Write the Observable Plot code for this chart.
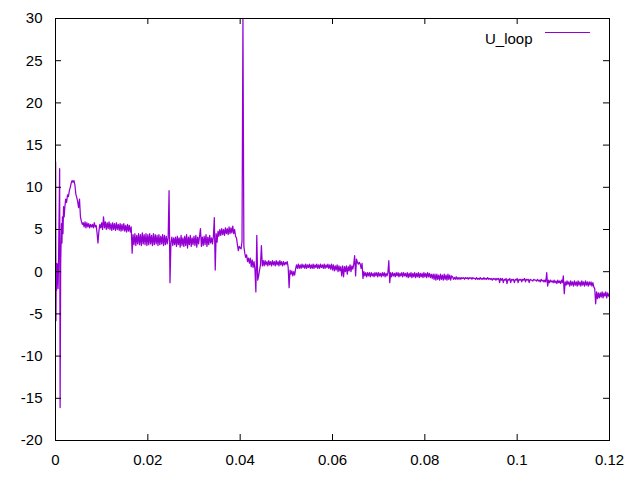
<!DOCTYPE html>
<html>
<head>
<meta charset="utf-8">
<script src="https://cdn.jsdelivr.net/npm/d3@7"></script>
<script src="https://cdn.jsdelivr.net/npm/@observablehq/plot@0.6"></script>
<style>
  html, body { margin: 0; padding: 0; background: #fff; }
  #chart svg { display: block; }
</style>
</head>
<body>
<div id="chart"></div>
<script>
// ---- data ----
const seriesName = "U_loop";
const xTicks = [0, 0.02, 0.04, 0.06, 0.08, 0.1, 0.12];
const xTickLabels = ["0", "0.02", "0.04", "0.06", "0.08", "0.1", "0.12"];
const yTicks = [-20, -15, -10, -5, 0, 5, 10, 15, 20, 25, 30];
const yTickLabels = ["-20", "-15", "-10", "-5", "0", "5", "10", "15", "20", "25", "30"];

// start-up transient (irregular times)
const transientTime = [0.00003, 0.0001, 0.00016, 0.00024, 0.00032, 0.0004, 0.00048, 0.00056, 0.00064,
  0.0009, 0.001, 0.00112, 0.0013, 0.0014, 0.0015, 0.00162, 0.00175, 0.00188];
const transientU = [13.0, -5.8, 0.9, -2.2, 1.0, -1.5, 0.8, -2.0, 0.5,
  12.2, -16.1, 1.0, 5.7, 3.4, 6.5, 4.5, 7.7, 6.5];

// regularly sampled part: t = 0.002, 0.0022, ... 0.12
const sampleStart = 0.002;
const sampleStep = 0.0002;
const uLoop = [
  7.5, 8.6, 8.2, 9.1, 8.9, 9.6, 10.0, 10.5, 10.8, 10.6,
  10.8, 10.3, 9.2, 8.8, 8.3, 7.6, 8.6, 6.5, 6.0, 5.6,
  5.8, 5.3, 5.9, 5.2, 5.8, 5.3, 5.7, 5.2, 5.6, 5.3,
  5.6, 5.2, 5.8, 5.3, 5.5, 4.6, 3.4, 4.8, 5.6, 5.2,
  5.8, 5.0, 6.5, 5.2, 5.9, 5.0, 5.8, 5.1, 5.9, 5.0,
  5.7, 4.9, 5.8, 5.0, 5.7, 4.9, 5.8, 5.0, 5.6, 4.9,
  5.7, 4.8, 5.6, 4.9, 5.7, 4.8, 5.5, 4.7, 5.6, 4.8,
  5.5, 4.7, 5.3, 2.2, 4.4, 3.2, 4.5, 3.1, 4.3, 3.3,
  4.5, 3.2, 4.4, 3.1, 4.6, 3.3, 4.4, 3.2, 4.5, 3.1,
  4.4, 3.2, 4.5, 3.3, 4.3, 3.1, 4.5, 3.2, 4.4, 3.3,
  4.3, 3.1, 4.4, 3.2, 4.2, 3.3, 4.4, 3.1, 4.3, 3.2,
  4.2, 3.3, 4.0, 9.6, -1.3, 3.4, 4.1, 3.1, 4.0, 3.2,
  4.1, 3.0, 4.2, 3.2, 4.0, 2.9, 4.3, 3.1, 4.0, 3.0,
  4.2, 3.1, 4.4, 2.8, 4.1, 3.2, 4.3, 3.0, 4.0, 3.2,
  4.2, 3.1, 4.3, 2.9, 4.1, 3.3, 4.2, 5.1, 3.0, 4.1,
  3.1, 4.2, 3.2, 4.4, 3.0, 4.1, 3.2, 4.3, 3.4, 4.0,
  3.3, 4.2, 6.4, 0.2, 4.5, 3.5, 4.8, 4.2, 5.0, 4.3,
  5.1, 4.4, 5.0, 4.3, 5.2, 4.5, 5.1, 4.4, 5.3, 4.5,
  5.2, 4.6, 5.4, 4.5, 5.0, 4.2, 4.0, 3.2, 2.5, 3.0,
  2.8, 2.7, 3.6, 30.0, 3.0, 2.2, 1.7, 2.0, 1.2, 1.6,
  1.0, 1.6, 0.6, 1.4, 0.5, 1.2, 0.3, -2.4, 4.3, -1.0,
  -0.5, 0.2, 0.8, 3.1, 0.7, 1.3, 0.7, 1.3, 0.8, 1.2,
  0.7, 1.3, 0.8, 1.2, 0.7, 1.3, 0.8, 1.2, 0.7, 1.3,
  0.8, 1.2, 0.7, 1.3, 0.8, 1.2, 0.7, 1.2, 0.8, 1.1,
  0.9, 1.2, 0.5, -1.9, 0.2, -0.3, 0.1, -0.5, 0.0, -0.4,
  0.3, 0.8, 0.4, 0.9, 0.4, 0.8, 0.4, 0.9, 0.5, 0.8,
  0.4, 0.9, 0.4, 0.8, 0.5, 0.9, 0.4, 0.8, 0.4, 0.9,
  0.4, 0.8, 0.5, 0.9, 0.4, 0.8, 0.4, 0.9, 0.5, 0.8,
  0.4, 0.9, 0.4, 0.8, 0.5, 0.9, 0.4, 0.8, 0.3, 0.9,
  0.2, 0.8, 0.1, 0.7, 0.2, 0.8, 0.0, 0.7, 0.1, 0.6,
  -0.5, 0.7, -0.6, 0.6, 0.0, 0.7, -0.3, 0.6, 0.1, 0.8,
  0.0, 0.7, 0.3, 0.9, 1.9, -0.5, 1.5, 1.1, 0.9, 1.1,
  0.9, 0.4, 1.0, -0.8, 0.0, -0.5, -0.1, -0.6, -0.1, -0.5,
  -0.1, -0.6, -0.1, -0.5, -0.2, -0.6, -0.1, -0.5, -0.1, -0.6,
  -0.1, -0.5, -0.2, -0.6, -0.1, -0.5, -0.1, -0.6, -0.2, -0.5,
  -0.1, 1.3, -1.3, -0.1, -0.6, -0.1, -0.5, -0.2, -0.6, -0.1,
  -0.5, -0.1, -0.6, -0.2, -0.5, -0.1, -0.6, -0.1, -0.5, -0.2,
  -0.6, -0.1, -0.7, -0.2, -0.6, -0.1, -0.7, -0.2, -0.6, -0.1,
  -0.7, -0.2, -0.6, -0.1, -0.7, -0.2, -0.6, -0.2, -0.7, -0.1,
  -0.6, -0.2, -0.7, -0.1, -0.6, -0.2, -0.7, -0.3, -0.8, -0.3,
  -0.9, -0.3, -1.0, -0.3, -0.9, -0.4, -1.0, -0.3, -0.9, -0.4,
  -1.0, -0.3, -0.9, -0.4, -1.0, -0.3, -0.9, -0.4, -1.0, -0.5,
  -0.6, -0.9, -0.7, -0.9, -0.6, -0.9, -0.7, -0.9, -0.7, -0.9,
  -0.7, -0.8, -0.7, -0.9, -0.7, -0.8, -0.7, -0.9, -0.7, -0.8,
  -0.7, -0.9, -0.7, -0.8, -0.8, -0.9, -0.7, -0.9, -0.8, -0.9,
  -0.7, -0.9, -0.8, -0.9, -0.7, -0.9, -0.8, -0.9, -0.7, -0.9,
  -0.8, -0.9, -0.8, -1.0, -0.8, -0.9, -0.8, -1.0, -0.8, -0.9,
  -0.8, -1.3, -0.8, -1.0, -0.8, -1.3, -0.9, -1.0, -0.8, -1.4,
  -0.9, -1.0, -0.8, -1.3, -0.9, -1.0, -0.9, -1.3, -0.9, -1.0,
  -0.8, -1.3, -0.9, -1.0, -0.9, -1.2, -0.9, -1.0, -0.8, -1.2,
  -0.9, -1.0, -0.9, -1.3, -0.9, -1.0, -1.0, -1.1, -0.9, -1.0,
  -1.0, -1.1, -0.9, -1.1, -1.0, -1.2, -0.9, -1.1, -1.0, -1.2,
  -1.0, -1.2, -0.1, -1.7, -1.0, -1.3, -1.0, -1.2, -1.1, -1.3,
  -1.0, -1.3, -1.1, -1.4, -1.0, -1.3, -1.1, -1.4, -1.0, -1.3,
  -0.5, -2.6, -1.2, -1.6, -1.1, -1.5, -1.2, -1.7, -1.1, -1.6,
  -1.2, -1.7, -1.1, -1.6, -1.2, -1.7, -1.1, -1.6, -1.2, -1.7,
  -1.1, -1.6, -1.2, -1.7, -1.1, -1.6, -1.2, -1.7, -1.2, -1.6,
  -1.2, -1.7, -1.3, -1.8, -2.0, -3.8, -2.4, -3.2, -2.5, -3.1,
  -2.5, -3.0, -2.4, -3.1, -2.5, -2.9, -2.4, -3.1, -2.5, -2.9, -2.6
];

// ---- build table ----
const rows = [];
transientTime.forEach((t, i) => rows.push({t, u: transientU[i]}));
uLoop.forEach((u, i) => rows.push({t: sampleStart + i * sampleStep, u}));

// ---- layout ----
const W = 640, H = 480;
const mL = 55, mR = 31, mT = 18, mB = 40;
const frameW = W - mL - mR, frameH = H - mT - mB;
const tick = 6;
const lineColor = "#9400d3";

const legendLine = () => {
  const g = d3.create("svg:g");
  g.append("line")
    .attr("x1", W - mR - 64).attr("x2", W - mR - 19)
    .attr("y1", mT + 14.5).attr("y2", mT + 14.5)
    .attr("stroke", lineColor).attr("stroke-width", 1);
  return g.node();
};

const chart = Plot.plot({
  width: W, height: H,
  marginLeft: mL, marginRight: mR, marginTop: mT, marginBottom: mB,
  style: {fontFamily: "'Liberation Sans', Arial, sans-serif", fontSize: "15px", background: "#fff", color: "#000"},
  x: {domain: [0, 0.12]},
  y: {domain: [-20, 30]},
  marks: [
    Plot.line(rows, {x: "t", y: "u", stroke: lineColor, strokeWidth: 1.25, clip: true}),
    Plot.frame({stroke: "#000", strokeWidth: 1}),
    Plot.tickX(xTicks, {x: d => d, insetTop: frameH - tick, stroke: "#000"}),
    Plot.tickX(xTicks, {x: d => d, insetBottom: frameH - tick, stroke: "#000"}),
    Plot.tickY(yTicks, {y: d => d, insetRight: frameW - tick, stroke: "#000"}),
    Plot.tickY(yTicks, {y: d => d, insetLeft: frameW - tick, stroke: "#000"}),
    Plot.axisX(xTicks, {tickSize: 0, tickPadding: 14, label: null,
      tickFormat: d => xTickLabels[xTicks.indexOf(d)], fontSize: 15}),
    Plot.axisY(yTicks, {tickSize: 0, tickPadding: 13, label: null,
      tickFormat: d => yTickLabels[yTicks.indexOf(d)], fontSize: 15}),
    Plot.text([seriesName], {text: d => d, frameAnchor: "top-right", dx: -77, dy: 14.5,
      textAnchor: "end", fontSize: 15, fill: "#000"}),
    legendLine
  ]
});
document.getElementById("chart").appendChild(chart);
</script>
</body>
</html>
